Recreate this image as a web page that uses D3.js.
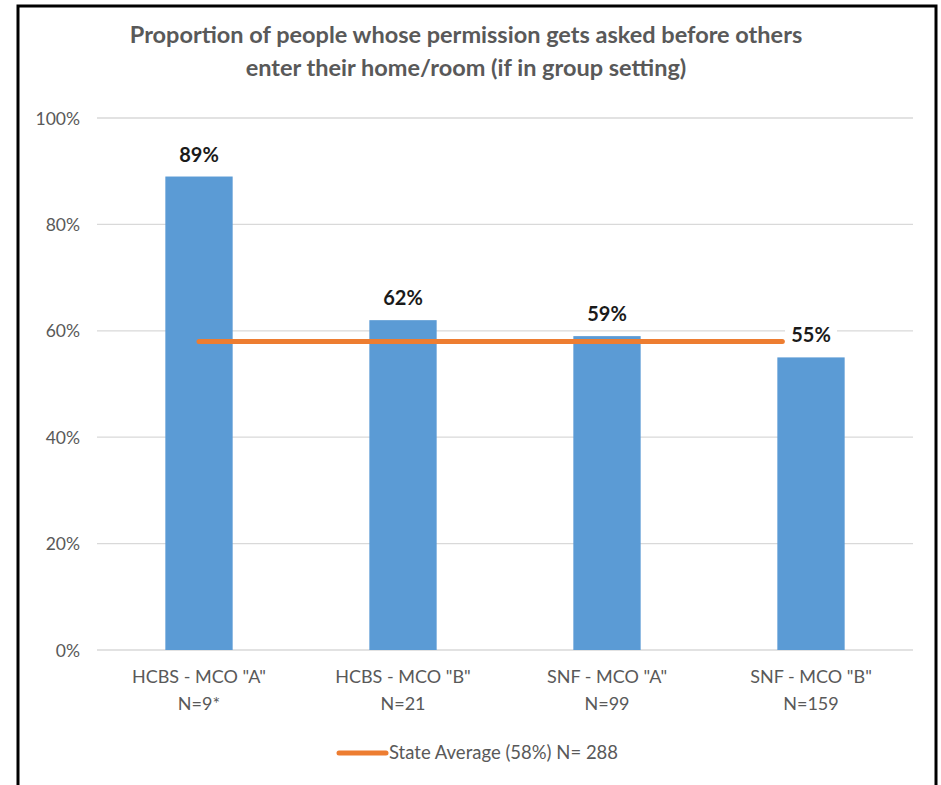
<!DOCTYPE html>
<html>
<head>
<meta charset="utf-8">
<script src="https://cdn.jsdelivr.net/npm/d3@7"></script>
<style>
  html, body { margin: 0; padding: 0; background: #fff; }
  svg { display: block; font-family: Lato, "Open Sans", sans-serif; }
</style>
</head>
<body>
<svg id="chart" width="941" height="785"></svg>
<script>
const categories = ['HCBS - MCO "A"', 'HCBS - MCO "B"', 'SNF - MCO "A"', 'SNF - MCO "B"'];
const sampleSizes = ['N=9*', 'N=21', 'N=99', 'N=159'];
const values = [0.89, 0.62, 0.59, 0.55];
const stateAverage = 0.58;
const yTicks = [0, 0.2, 0.4, 0.6, 0.8, 1.0];
const titleLines = ["Proportion of people whose permission gets asked before others", "enter their home/room (if in group setting)"];
const legendLabel = "State Average (58%) N= 288";

const svg = d3.select("#chart");
const gray = "#595959";

// frame
svg.append("rect").attr("x", 18).attr("y", 6).attr("width", 918).attr("height", 800)
  .attr("fill", "none").attr("stroke", "#000").attr("stroke-width", 3);

// title
svg.append("g").selectAll("text").data(titleLines).join("text")
  .attr("x", 466).attr("y", (d, i) => 43 + i * 33)
  .attr("text-anchor", "middle").attr("font-size", 23.5).attr("font-weight", "bold")
  .attr("fill", gray).text(d => d);

const x = d3.scaleBand().domain(categories).range([97, 913]).paddingInner(0.67).paddingOuter(0.335);
const y = d3.scaleLinear().domain([0, 1]).range([650, 118]);

// gridlines
svg.append("g").selectAll("line").data(yTicks).join("line")
  .attr("x1", 97).attr("x2", 913)
  .attr("y1", d => y(d)).attr("y2", d => y(d))
  .attr("stroke", "#d9d9d9").attr("stroke-width", 1.3);

// y axis labels
const yAxis = d3.axisLeft(y).tickValues(yTicks).tickFormat(d3.format(".0%")).tickSize(0).tickPadding(0);
const yg = svg.append("g").attr("transform", "translate(80,0)").call(yAxis);
yg.select(".domain").remove();
yg.selectAll("text").attr("font-size", 17.5).attr("fill", gray).attr("font-family", "Lato, 'Open Sans', sans-serif").attr("dy", "0.35em");

// bars
svg.append("g").selectAll("rect").data(values).join("rect")
  .attr("x", (d, i) => x(categories[i]))
  .attr("width", x.bandwidth())
  .attr("y", d => y(d))
  .attr("height", d => y(0) - y(d))
  .attr("fill", "#5b9bd5");

// state average line
const lineData = [
  [x(categories[0]) + x.bandwidth() / 2, stateAverage],
  [x(categories[3]) + 5, stateAverage]
];
svg.append("path")
  .attr("d", d3.line().x(d => d[0]).y(d => y(d[1]))(lineData))
  .attr("stroke", "#ed7d31").attr("stroke-width", 5).attr("stroke-linecap", "round").attr("fill", "none");

// data labels with white background
const labels = svg.append("g").selectAll("g").data(values).join("g")
  .attr("transform", (d, i) => `translate(${x(categories[i]) + x.bandwidth() / 2},${y(d) - 22})`);
labels.append("rect").attr("x", -26).attr("y", -13).attr("width", 52).attr("height", 26).attr("fill", "#fff");
labels.append("text").attr("text-anchor", "middle").attr("dy", "0.35em")
  .attr("font-size", 20).attr("font-weight", "bold").attr("fill", "#1a1a1a")
  .text(d => d3.format(".0%")(d));

// category labels
const cat = svg.append("g").selectAll("text").data(categories).join("text")
  .attr("x", d => x(d) + x.bandwidth() / 2).attr("y", 683)
  .attr("text-anchor", "middle").attr("font-size", 18).attr("fill", gray);
cat.append("tspan").attr("x", d => x(d) + x.bandwidth() / 2).text(d => d);
cat.append("tspan").attr("x", d => x(d) + x.bandwidth() / 2).attr("dy", 27).text((d, i) => sampleSizes[i]);

// legend
svg.append("line").attr("x1", 339).attr("x2", 386).attr("y1", 753).attr("y2", 753)
  .attr("stroke", "#ed7d31").attr("stroke-width", 5).attr("stroke-linecap", "round");
svg.append("text").attr("x", 389).attr("y", 759).attr("font-size", 18.5).attr("fill", gray).text(legendLabel);
</script>
</body>
</html>
